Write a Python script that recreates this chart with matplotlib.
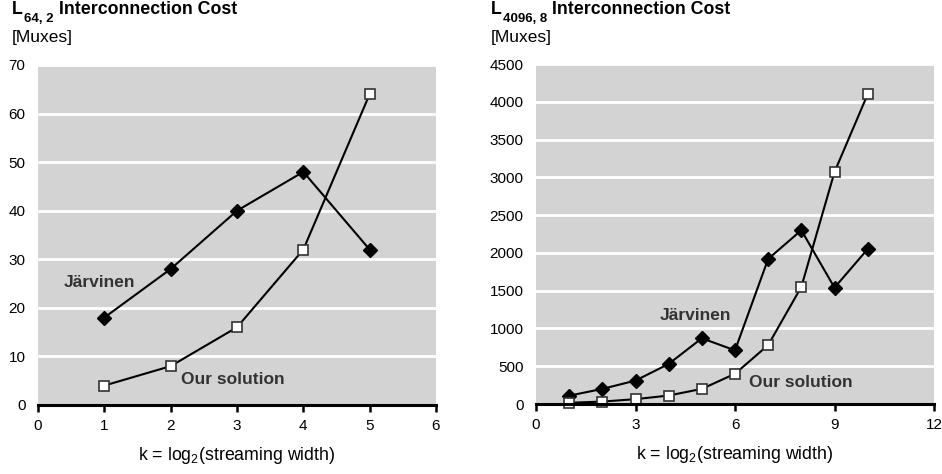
import matplotlib
matplotlib.use("Agg")
import matplotlib.pyplot as plt

plt.rcParams["font.family"] = ["Liberation Sans", "DejaVu Sans"]
plt.rcParams["mathtext.fontset"] = "custom"
plt.rcParams["mathtext.rm"] = "Liberation Sans"
plt.rcParams["mathtext.it"] = "Liberation Sans:italic"
plt.rcParams["mathtext.bf"] = "Liberation Sans:bold"

k_small = [1, 2, 3, 4, 5]
jarvinen_small = [18, 28, 40, 48, 32]
ours_small = [4, 8, 16, 32, 64]

k_large = [1, 2, 3, 4, 5, 6, 7, 8, 9, 10]
jarvinen_large = [110, 200, 310, 530, 870, 710, 1920, 2300, 1540, 2050]
ours_large = [16, 32, 64, 112, 200, 400, 780, 1550, 3070, 4100]

TEXT_GREY = "#333333"


def style_axes(ax, xmax, xstep, ymax, ystep):
    ax.set_facecolor("#d3d3d3")
    ax.set_xlim(0, xmax)
    ax.set_ylim(0, ymax)
    ax.set_xticks(range(0, xmax + 1, xstep))
    ax.set_yticks(range(0, ymax + 1, ystep))
    ax.yaxis.grid(True, color="white", linewidth=2)
    ax.set_axisbelow(True)
    for s in ["top", "right", "left"]:
        ax.spines[s].set_visible(False)
    ax.spines["bottom"].set_linewidth(2.2)
    ax.spines["bottom"].set_zorder(5)
    ax.tick_params(axis="x", direction="out", length=5, width=1.8, labelsize=11, pad=5)
    ax.tick_params(axis="y", length=0, labelsize=11, pad=9)
    ax.set_xlabel("k = log$_\\mathrm{2}$(streaming width)", fontsize=12.8, labelpad=9)


def draw(ax, k, jv, ours):
    ax.plot(k, jv, color="black", linewidth=1.5, marker="D", markersize=7,
            markerfacecolor="black", clip_on=False, zorder=3)
    ax.plot(k, ours, color="black", linewidth=1.5, marker="s", markersize=7,
            markerfacecolor="white", markeredgecolor="#333333", markeredgewidth=1.2,
            clip_on=False, zorder=4)


def title(fig, x_px, sub):
    # L + subscript + rest, placed piece by piece
    r = fig.canvas.get_renderer()
    W, H = fig.bbox.width, fig.bbox.height
    y_base = 1 - 14 / H
    t1 = fig.text(x_px / W, y_base, "L", fontsize=12.8, fontweight="bold", va="baseline")
    x1 = t1.get_window_extent(r).x1
    t2 = fig.text((x1 + 1.5) / W, y_base - 8.5 / H, sub, fontsize=9.5, fontweight="bold",
                  va="baseline")
    x2 = t2.get_window_extent(r).x1
    fig.text((x2 + 5) / W, y_base, "Interconnection Cost", fontsize=12.8, fontweight="bold",
             va="baseline")
    fig.text(x_px / W, 1 - 42 / H, "[Muxes]", fontsize=12.5, va="baseline")


fig = plt.figure(figsize=(9.42, 4.74), dpi=100)

ax1 = fig.add_axes([38 / 942, 1 - 405 / 474, 398 / 942, 340 / 474])
style_axes(ax1, 6, 1, 70, 10)
draw(ax1, k_small, jarvinen_small, ours_small)
ax1.text(0.38, 25.3, "Järvinen", fontsize=12.5, fontweight="bold", color=TEXT_GREY, va="center")
ax1.text(2.16, 5.3, "Our solution", fontsize=12.5, fontweight="bold", color=TEXT_GREY, va="center")

ax2 = fig.add_axes([536 / 942, 1 - 404 / 474, 398 / 942, 340 / 474])
style_axes(ax2, 12, 3, 4500, 500)
draw(ax2, k_large, jarvinen_large, ours_large)
ax2.text(3.74, 1165, "Järvinen", fontsize=12.5, fontweight="bold", color=TEXT_GREY, va="center")
ax2.text(6.42, 278, "Our solution", fontsize=12.5, fontweight="bold", color=TEXT_GREY, va="center")

title(fig, 12, "64, 2")
title(fig, 491, "4096, 8")

fig.savefig("out.png", dpi=100)
